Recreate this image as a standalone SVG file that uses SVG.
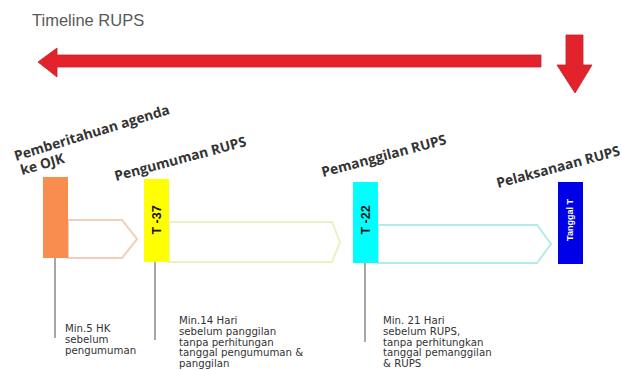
<svg xmlns="http://www.w3.org/2000/svg" width="622" height="370" viewBox="0 0 622 370">
<defs>
<style>
.title{font-family:"Liberation Sans",Arial,sans-serif;font-size:16.5px;fill:#595959}
.lbl{font-family:"Open Sans","Liberation Sans",sans-serif;font-weight:700;font-size:13.8px;fill:#333}
.tag{font-family:"Liberation Sans",Arial,sans-serif;font-weight:700;font-size:12.5px;fill:#111;text-anchor:middle}
.note{font-family:"DejaVu Sans","Liberation Sans",sans-serif;font-size:10.2px;fill:#333}
.lead{stroke:#8a8a8a;stroke-width:1.5;fill:none}
.chev{fill:#fff;stroke-width:2}
</style>
</defs>
<rect width="622" height="370" fill="#fff"/>
<text class="title" x="32" y="26">Timeline RUPS</text>
<g id="arrows">
<polygon points="38,62 57,48 57,55 541,55 541,67 57,67 57,77" fill="#e3232b" stroke="#c81e25" stroke-width="0.8"/>
<polygon points="566,35 583,35 583,65 592,65 575,93 557,65 566,65" fill="#e3232b" stroke="#c81e25" stroke-width="0.8"/>
</g>
<g id="connectors">
<polygon class="chev" points="68,220 122,220 137,239 122,258 68,258" stroke="#f3cdb8"/>
<polygon class="chev" points="169,222 332,222 340,242 332,262 169,262" stroke="#efefc4"/>
<polygon class="chev" points="378,225 537,225 551,244 537,263 378,263" stroke="#b6eaea"/>
<line class="lead" x1="55" y1="258" x2="55" y2="338"/>
<line class="lead" x1="155" y1="262" x2="155" y2="340"/>
<line class="lead" x1="365" y1="263" x2="365" y2="342"/>
</g>
<g id="node-ojk">
<rect x="43" y="177" width="25" height="81" fill="#f98c4f"/>
<text class="lbl" transform="translate(16,161) rotate(-17)">Pemberitahuan agenda</text>
<text class="lbl" transform="translate(22,175) rotate(-16)">ke OJK</text>
<text class="note" x="65" y="332">Min.5 HK</text>
<text class="note" x="65" y="343">sebelum</text>
<text class="note" x="65" y="354">pengumuman</text>
</g>
<g id="node-pengumuman">
<rect x="144" y="179" width="25" height="83" fill="#ffff00"/>
<text class="tag" transform="translate(161,220) rotate(-90)">T -37</text>
<text class="lbl" transform="translate(116,181) rotate(-15)">Pengumuman RUPS</text>
<text class="note" x="179" y="324">Min.14 Hari</text>
<text class="note" x="179" y="335">sebelum panggilan</text>
<text class="note" x="179" y="345.5">tanpa perhitungan</text>
<text class="note" x="179" y="356">tanggal pengumuman &amp;</text>
<text class="note" x="179" y="366.5">panggilan</text>
</g>
<g id="node-pemanggilan">
<rect x="353" y="182" width="25" height="81" fill="#00ffff"/>
<text class="tag" transform="translate(370,220) rotate(-90)">T -22</text>
<text class="lbl" transform="translate(323,177) rotate(-15)">Pemanggilan RUPS</text>
<text class="note" x="383" y="324">Min. 21 Hari</text>
<text class="note" x="383" y="335">sebelum RUPS,</text>
<text class="note" x="383" y="345.5">tanpa perhitungkan</text>
<text class="note" x="383" y="356">tanggal pemanggilan</text>
<text class="note" x="383" y="366.5">&amp; RUPS</text>
</g>
<g id="node-pelaksanaan">
<rect x="558" y="182" width="25" height="82" fill="#0000e6"/>
<text class="tag" style="fill:#fff;font-size:9px" transform="translate(573,220) rotate(-90)">Tanggal T</text>
<text class="lbl" transform="translate(498,188) rotate(-15)">Pelaksanaan RUPS</text>
</g>
</svg>
